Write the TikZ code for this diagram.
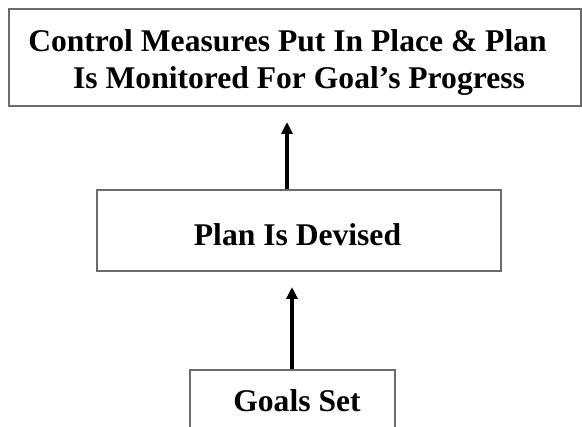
\documentclass[tikz,border=0pt]{standalone}
\usepackage{fontspec}
\setmainfont{Liberation Serif}
\usetikzlibrary{arrows.meta}
\begin{document}
\begin{tikzpicture}[x=1pt,y=-1pt,
  stage/.style={draw=black!58,line width=1.4pt,inner sep=0pt},
  label/.style={inner sep=0pt,anchor=base,
    font=\fontsize{31.6}{38}\selectfont\bfseries},
  uparrow/.style={line width=3.4pt,-{Triangle[width=11pt,length=12pt]}}]
\useasboundingbox (0,0) rectangle (582,427);
\clip (0,0) rectangle (582,427);
% boxes
\node[stage,minimum width=572pt,minimum height=97pt] (monitor) at (295,57.5) {};
\node[stage,minimum width=404pt,minimum height=81pt] (devised) at (299,230.5) {};
\node[stage,minimum width=205pt,minimum height=100pt] (goals) at (292.5,420) {};
% texts
\node[label] (monitora) at (287.5,52) {Control Measures Put In Place \& Plan};
\node[label] (monitorb) at (299,89) {Is Monitored For Goal’s Progress};
\node[label] (devisedtext) at (297.5,246) {Plan Is Devised};
\node[label] (goalstext) at (297,412) {Goals Set};
% free ends of the arrows
\coordinate (tipa) at (287,122);
\coordinate (tipb) at (292,287);
\draw[uparrow] (devised.north -| tipa) -- (tipa);
\draw[uparrow] (goals.north -| tipb) -- (tipb);
\end{tikzpicture}
\end{document}
